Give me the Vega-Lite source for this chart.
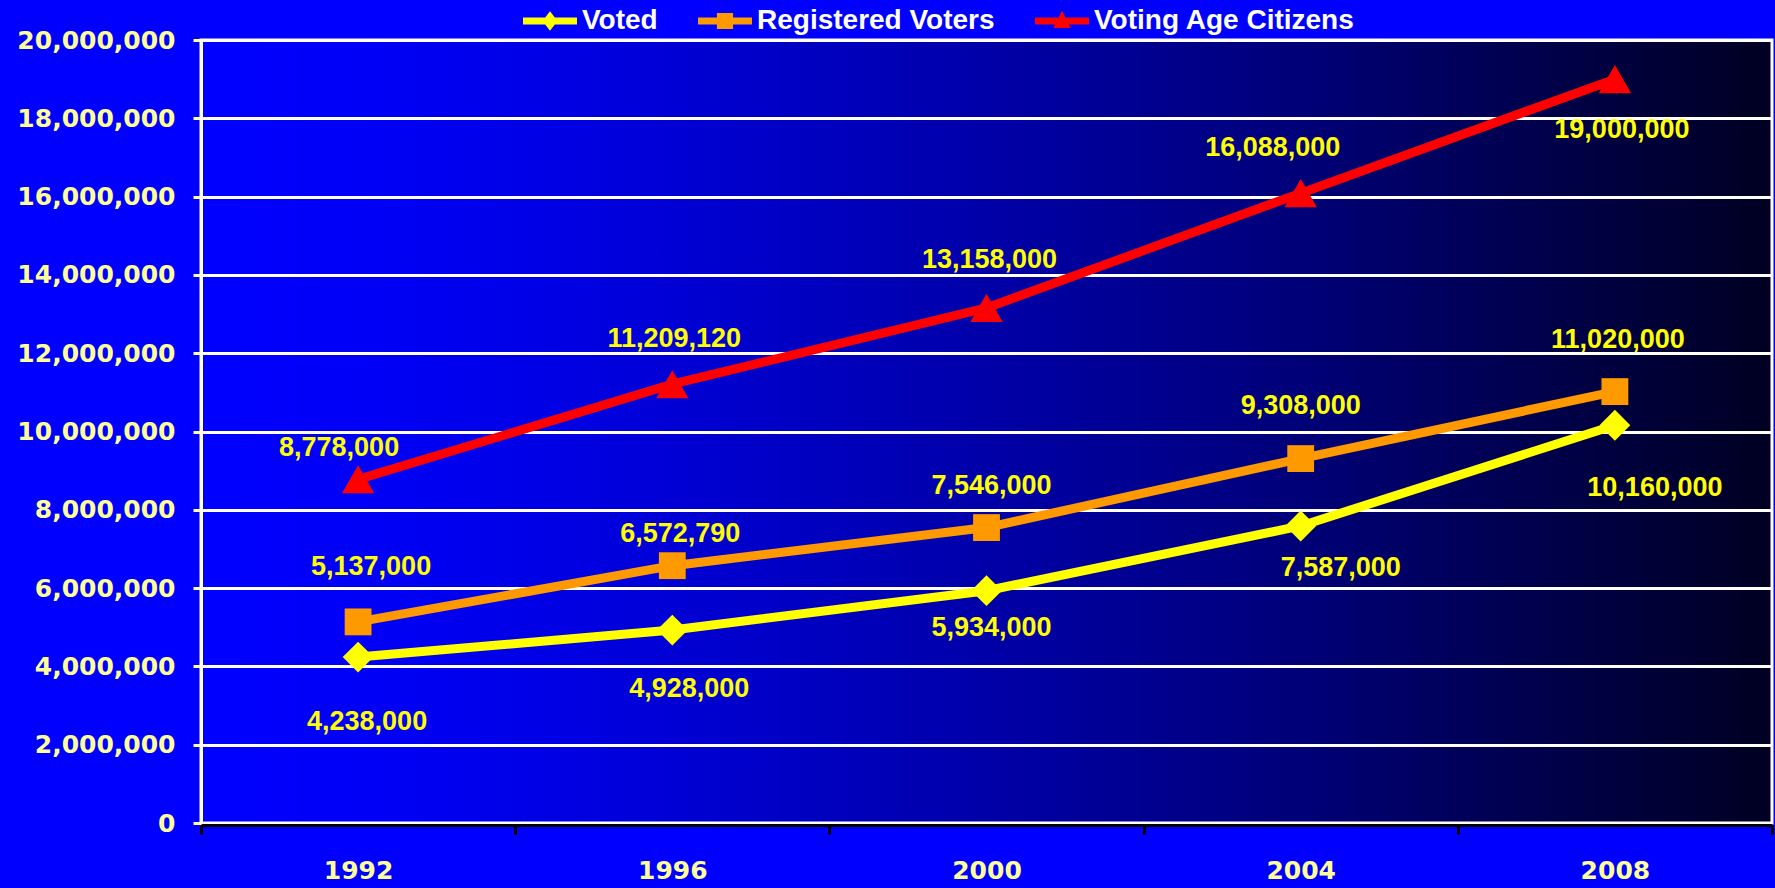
{
  "$schema": "https://vega.github.io/schema/vega-lite/v6.json",
  "width": 1571,
  "height": 783,
  "autosize": {"type": "none"},
  "padding": {"left": 201, "top": 40, "right": 3, "bottom": 65},
  "background": "#0000FF",
  "config": {
    "view": {
      "fill": {
        "gradient": "linear",
        "x1": 0, "y1": 0, "x2": 1, "y2": 0,
        "stops": [
          {"offset": 0, "color": "#0000FF"},
          {"offset": 0.1, "color": "#0000F8"},
          {"offset": 0.25, "color": "#0000E0"},
          {"offset": 0.5, "color": "#0000A8"},
          {"offset": 0.7, "color": "#000078"},
          {"offset": 0.85, "color": "#00004C"},
          {"offset": 1, "color": "#000022"}
        ]
      },
      "stroke": "#FFFFFF",
      "strokeWidth": 3
    }
  },
  "data": {
    "values": [
      {"year": 1992, "series": "Voted", "value": 4238000},
      {"year": 1996, "series": "Voted", "value": 4928000},
      {"year": 2000, "series": "Voted", "value": 5934000},
      {"year": 2004, "series": "Voted", "value": 7587000},
      {"year": 2008, "series": "Voted", "value": 10160000},
      {"year": 1992, "series": "Registered Voters", "value": 5137000},
      {"year": 1996, "series": "Registered Voters", "value": 6572790},
      {"year": 2000, "series": "Registered Voters", "value": 7546000},
      {"year": 2004, "series": "Registered Voters", "value": 9308000},
      {"year": 2008, "series": "Registered Voters", "value": 11020000},
      {"year": 1992, "series": "Voting Age Citizens", "value": 8778000},
      {"year": 1996, "series": "Voting Age Citizens", "value": 11209120},
      {"year": 2000, "series": "Voting Age Citizens", "value": 13158000},
      {"year": 2004, "series": "Voting Age Citizens", "value": 16088000},
      {"year": 2008, "series": "Voting Age Citizens", "value": 19000000}
    ]
  },
  "encoding": {
    "x": {
      "field": "year",
      "type": "ordinal",
      "bandPosition": 0.5,
      "scale": {"type": "band", "paddingInner": 0, "paddingOuter": 0},
      "axis": {
        "title": null,
        "labelAngle": 0,
        "tickBand": "extent",
        "grid": false,
        "offset": 2,
        "domainColor": "#000000",
        "domainWidth": 3,
        "tickColor": "#000000",
        "tickWidth": 3,
        "tickSize": 9,
        "labelColor": "#FFFF99",
        "labelFont": "DejaVu Sans",
        "labelFontWeight": "bold",
        "labelFontSize": 25,
        "labelPadding": 24
      }
    },
    "y": {
      "field": "value",
      "type": "quantitative",
      "scale": {"domain": [0, 20000000], "nice": false},
      "axis": {
        "title": null,
        "values": [0, 2000000, 4000000, 6000000, 8000000, 10000000, 12000000, 14000000, 16000000, 18000000, 20000000],
        "format": ",.0f",
        "grid": true,
        "gridColor": "#FFFFFF",
        "gridWidth": 3,
        "gridOpacity": 1,
        "domainColor": "#FFFFFF",
        "domainWidth": 3,
        "tickColor": "#FFFF99",
        "tickWidth": 3,
        "tickSize": 8,
        "labelPadding": 18,
        "labelColor": "#FFFF99",
        "labelFont": "DejaVu Sans",
        "labelFontWeight": "bold",
        "labelFontSize": 25
      }
    }
  },
  "layer": [
    {
      "transform": [{"filter": "datum.series === 'Voted'"}],
      "mark": {"type": "line", "strokeWidth": 9, "color": "#FFFF00"}
    },
    {
      "transform": [{"filter": "datum.series === 'Registered Voters'"}],
      "mark": {"type": "line", "strokeWidth": 9, "color": "#FF9900"}
    },
    {
      "transform": [{"filter": "datum.series === 'Voting Age Citizens'"}],
      "mark": {"type": "line", "strokeWidth": 9, "color": "#FF0000"}
    },
    {
      "transform": [{"filter": "datum.series === 'Voted'"}],
      "mark": {"type": "point", "shape": "diamond", "filled": true, "color": "#FFFF00", "size": 950, "opacity": 1}
    },
    {
      "transform": [{"filter": "datum.series === 'Registered Voters'"}],
      "mark": {"type": "point", "shape": "square", "filled": true, "color": "#FF9900", "size": 720, "opacity": 1}
    },
    {
      "transform": [{"filter": "datum.series === 'Voting Age Citizens'"}],
      "mark": {"type": "point", "shape": "triangle-up", "filled": true, "color": "#FF0000", "size": 1050, "opacity": 1}
    },
    {
      "mark": {"type": "point", "filled": true, "opacity": 0},
      "encoding": {
        "color": {
          "field": "series",
          "type": "nominal",
          "scale": {
            "domain": ["Voted", "Registered Voters", "Voting Age Citizens"],
            "range": ["#FFFF00", "#FF9900", "#FF0000"]
          },
          "legend": {
            "title": null,
            "orient": "none",
            "legendX": 322,
            "legendY": -46,
            "direction": "horizontal",
            "padding": 0,
            "symbolSize": 2916,
            "symbolOpacity": 1,
            "symbolStrokeWidth": 0,
            "labelColor": "#FFFFFF",
            "labelFont": "Liberation Sans",
            "labelFontWeight": "bold",
            "labelFontSize": 28,
            "labelLimit": 0,
            "labelOffset": 5,
            "columnPadding": 40
          }
        },
        "shape": {
          "field": "series",
          "type": "nominal",
          "scale": {
            "domain": ["Voted", "Registered Voters", "Voting Age Citizens"],
            "range": [
              "M-1,-0.13H1V0.13H-1Z M0,-0.36L0.28,0L0,0.36L-0.28,0Z",
              "M-1,-0.13H1V0.13H-1Z M-0.3,-0.3H0.3V0.3H-0.3Z",
              "M-1,-0.13H1V0.13H-1Z M0,-0.38L0.32,0.26L-0.32,0.26Z"
            ]
          },
          "legend": {
            "title": null,
            "orient": "none",
            "legendX": 322,
            "legendY": -46,
            "direction": "horizontal",
            "padding": 0,
            "symbolSize": 2916,
            "symbolOpacity": 1,
            "symbolStrokeWidth": 0,
            "labelColor": "#FFFFFF",
            "labelFont": "Liberation Sans",
            "labelFontWeight": "bold",
            "labelFontSize": 28,
            "labelLimit": 0,
            "labelOffset": 5,
            "columnPadding": 40
          }
        }
      }
    },
    {
      "transform": [{"filter": "datum.series === 'Voted'"}],
      "mark": {
        "type": "text", "font": "Liberation Sans", "fontWeight": "bold", "fontSize": 27,
        "color": "#FFFF00", "align": "center", "baseline": "middle",
        "dx": {"expr": "[9, 17, 5, 40, 40][(datum.year - 1992) / 4]"},
        "dy": {"expr": "[65, 59, 37, 42, 63][(datum.year - 1992) / 4]"}
      },
      "encoding": {"text": {"field": "value", "type": "quantitative", "format": ","}}
    },
    {
      "transform": [{"filter": "datum.series === 'Registered Voters'"}],
      "mark": {
        "type": "text", "font": "Liberation Sans", "fontWeight": "bold", "fontSize": 27,
        "color": "#FFFF00", "align": "center", "baseline": "middle",
        "dx": {"expr": "[13, 8, 5, 0, 3][(datum.year - 1992) / 4]"},
        "dy": {"expr": "[-55, -32, -42, -53, -52][(datum.year - 1992) / 4]"}
      },
      "encoding": {"text": {"field": "value", "type": "quantitative", "format": ","}}
    },
    {
      "transform": [{"filter": "datum.series === 'Voting Age Citizens'"}],
      "mark": {
        "type": "text", "font": "Liberation Sans", "fontWeight": "bold", "fontSize": 27,
        "color": "#FFFF00", "align": "center", "baseline": "middle",
        "dx": {"expr": "[-19, 2, 3, -28, 7][(datum.year - 1992) / 4]"},
        "dy": {"expr": "[-31, -45, -48, -45, 51][(datum.year - 1992) / 4]"}
      },
      "encoding": {"text": {"field": "value", "type": "quantitative", "format": ","}}
    }
  ]
}
